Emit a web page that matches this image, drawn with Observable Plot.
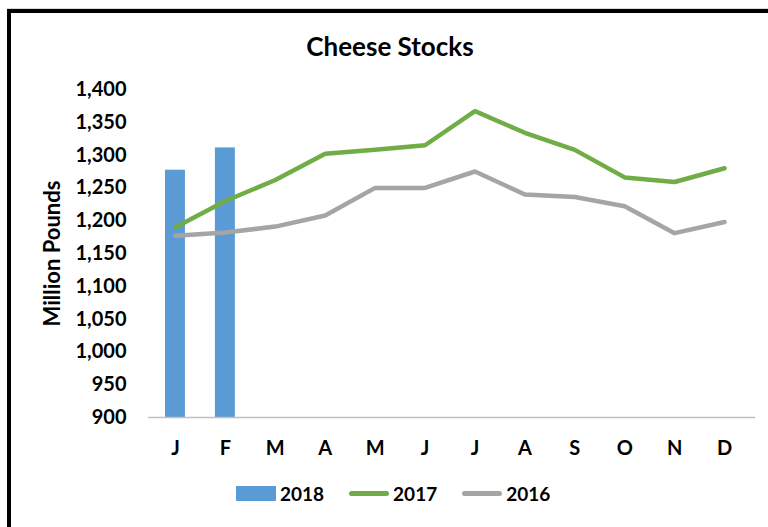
<!DOCTYPE html>
<html><head><meta charset="utf-8">
<script src="https://cdn.jsdelivr.net/npm/d3@7"></script>
<script src="https://cdn.jsdelivr.net/npm/@observablehq/plot@0.6"></script>
<style>
body{margin:0;background:#fff;font-family:Lato,"Open Sans",sans-serif;}
#wrap{position:relative;width:768px;height:527px;overflow:hidden;background:#fff;}
#topline{position:absolute;left:7px;top:8px;width:770px;height:1px;background:#d9d9d9;}
#frame{position:absolute;left:7px;top:9px;width:800px;height:600px;border-left:4px solid #000;border-top:4px solid #000;}
#title{position:absolute;left:0;top:30px;width:780px;text-align:center;font-weight:700;font-size:26px;color:#000;}
#chart{position:absolute;left:0;top:70px;}
#legend{position:absolute;left:236px;top:482px;display:flex;align-items:center;font-weight:700;font-size:19px;color:#000;}
.item{display:flex;align-items:center;margin-right:25px;}
.sw{width:40px;margin-right:4px;}
</style></head>
<body>
<div id="wrap">
  <div id="topline"></div>
  <div id="frame"></div>
  <div id="title">Cheese Stocks</div>
  <div id="chart"></div>
  <div id="legend"></div>
</div>
<script>
const monthKeys = ["Jan","Feb","Mar","Apr","May","Jun","Jul","Aug","Sep","Oct","Nov","Dec"];
const monthLabels = ["J","F","M","A","M","J","J","A","S","O","N","D"];
const months2018 = ["Jan","Feb"];
const values2018 = [1277, 1311];
const values2017 = [1190, 1230, 1262, 1302, 1308, 1315, 1367, 1334, 1308, 1266, 1259, 1280];
const values2016 = [1177, 1182, 1191, 1208, 1250, 1250, 1275, 1240, 1236, 1222, 1181, 1198];
const yTicks = [900, 950, 1000, 1050, 1100, 1150, 1200, 1250, 1300, 1350, 1400];
const seriesNames = ["2018", "2017", "2016"];
const seriesColors = ["#5b9bd5", "#70ad47", "#a5a5a5"];

const bars = months2018.map((m, i) => ({month: m, value: values2018[i]}));
const line2017 = monthKeys.map((m, i) => ({month: m, value: values2017[i]}));
const line2016 = monthKeys.map((m, i) => ({month: m, value: values2016[i]}));

const chart = Plot.plot({
  width: 768,
  height: 405,
  marginTop: 19,
  marginBottom: 58,
  marginLeft: 150,
  marginRight: 19,
  style: {fontFamily: "Lato, 'Open Sans', sans-serif", fontSize: "20px", fontWeight: "bold", color: "#000", background: "transparent", overflow: "visible"},
  x: {domain: monthKeys, paddingInner: 0.6, paddingOuter: 0.3, round: false, tickFormat: (d) => monthLabels[monthKeys.indexOf(d)], tickSize: 0, tickPadding: 23, label: null},
  y: {domain: [900, 1400], ticks: yTicks, tickFormat: d3.format(","), tickSize: 0, tickPadding: 24, label: null},
  marks: [
    Plot.barY(bars, {x: "month", y1: 900, y2: "value", fill: seriesColors[0]}),
    Plot.ruleY([900], {stroke: "#bfbfbf", strokeWidth: 1.5, insetLeft: -2, insetRight: -6}),
    Plot.line(line2016, {x: "month", y: "value", stroke: seriesColors[2], strokeWidth: 4.5, strokeLinejoin: "round", strokeLinecap: "round"}),
    Plot.line(line2017, {x: "month", y: "value", stroke: seriesColors[1], strokeWidth: 4.5, strokeLinejoin: "round", strokeLinecap: "round"}),
    Plot.text(["Million Pounds"], {frameAnchor: "left", textAnchor: "middle", dx: -98, rotate: -90, fontSize: 22, fontWeight: "bold", fill: "#000"})
  ]
});
document.getElementById("chart").appendChild(chart);

const legend = document.getElementById("legend");
seriesNames.forEach((name, i) => {
  const item = document.createElement("div");
  item.className = "item";
  const sw = document.createElement("div");
  sw.className = "sw";
  sw.style.background = seriesColors[i];
  sw.style.height = i === 0 ? "15px" : "5px";
  sw.style.borderRadius = i === 0 ? "0" : "3px";
  const t = document.createElement("span");
  t.textContent = name;
  item.appendChild(sw);
  item.appendChild(t);
  legend.appendChild(item);
});
</script>
</body></html>
